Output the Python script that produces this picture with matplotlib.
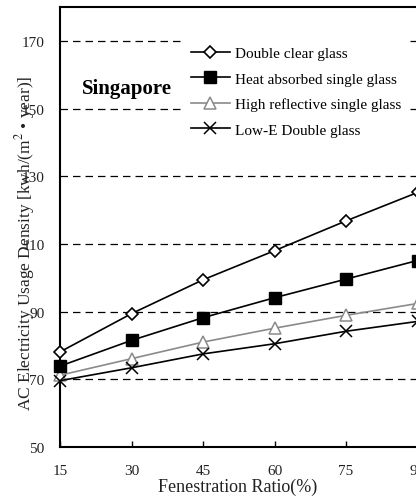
import numpy as np
import matplotlib
matplotlib.use("Agg")
import matplotlib.pyplot as plt

# Fenestration ratio (%) and AC electricity usage density, Singapore case
ratio = [15, 30, 45, 60, 75, 90]
double_clear = [78.1, 89.4, 99.4, 108.0, 116.8, 125.2]
heat_absorbed = [73.9, 81.5, 88.2, 94.1, 99.6, 105.1]
high_reflective = [71.2, 76.1, 81.0, 85.1, 88.9, 92.4]
low_e_double = [69.6, 73.4, 77.5, 80.5, 84.2, 87.1]

y_ticks = [50, 70, 90, 110, 130, 150, 170]

plt.rcParams['font.family'] = ['Liberation Serif', 'DejaVu Serif']
plt.rcParams['mathtext.fontset'] = 'stix'

W, H = 416, 502
fig = plt.figure(figsize=(W / 100, H / 100), dpi=100)
fig.patch.set_facecolor('white')

# axes run slightly past the right edge of the figure
ax = fig.add_axes([60 / W, (H - 448) / H, 357.5 / W, 440 / H])

gris = '#8a8a8a'
ax.plot(ratio, double_clear, color='black', lw=1.2, marker='D', ms=6,
        mfc='white', mec='black', mew=1.2, label='Double clear glass', clip_on=False, zorder=4)
ax.plot(ratio, heat_absorbed, color='black', lw=1.2, marker='s', ms=8,
        mfc='black', mec='black', label='Heat absorbed single glass', clip_on=False, zorder=4)
ax.plot(ratio, high_reflective, color=gris, lw=1.2, marker='^', ms=8,
        mfc='white', mec=gris, mew=1.1, label='High reflective single glass', clip_on=False, zorder=3)
ax.plot(ratio, low_e_double, color='black', lw=1.2, marker='x', ms=9,
        mec='black', mew=1.1, label='Low-E Double glass', clip_on=False, zorder=3)

ax.set_xlim(15, 90)
ax.set_ylim(50, 180)
ax.set_xticks(ratio)
ax.set_yticks(y_ticks)
ax.tick_params(axis='x', direction='in', length=4, width=1, pad=12, labelsize=11)
ax.tick_params(axis='y', direction='in', length=0, pad=11, labelsize=11)
for lab in ax.get_xticklabels() + ax.get_yticklabels():
    lab.set_color('#222222')

ax.set_axisbelow(True)
ax.yaxis.grid(True, color='black', lw=0.9, linestyle=(0, (6, 4)))
for s in ax.spines.values():
    s.set_linewidth(1.5)

ax.text(19.6, 156, 'Singapore', fontsize=15, fontweight='bold', va='center', ha='left')

leg = ax.legend(loc='upper left', bbox_to_anchor=(0.344, 0.93), borderaxespad=0,
                fontsize=11, frameon=True, fancybox=False, edgecolor='none',
                facecolor='white', framealpha=1, handlelength=2.5,
                handletextpad=0.35, labelspacing=0.78, borderpad=0.55)

fig.text(25 / W, 1 - 243.5 / H, 'AC Electricity Usage Density [kwh/(m$^{2}$ • year)]',
         rotation=90, ha='center', va='center', fontsize=12.5, color='#222222')
fig.text(238 / W, 1 - 487 / H, 'Fenestration Ratio(%)', ha='center', va='center',
         fontsize=13, color='#222222')

fig.savefig('out.png', dpi=100)
